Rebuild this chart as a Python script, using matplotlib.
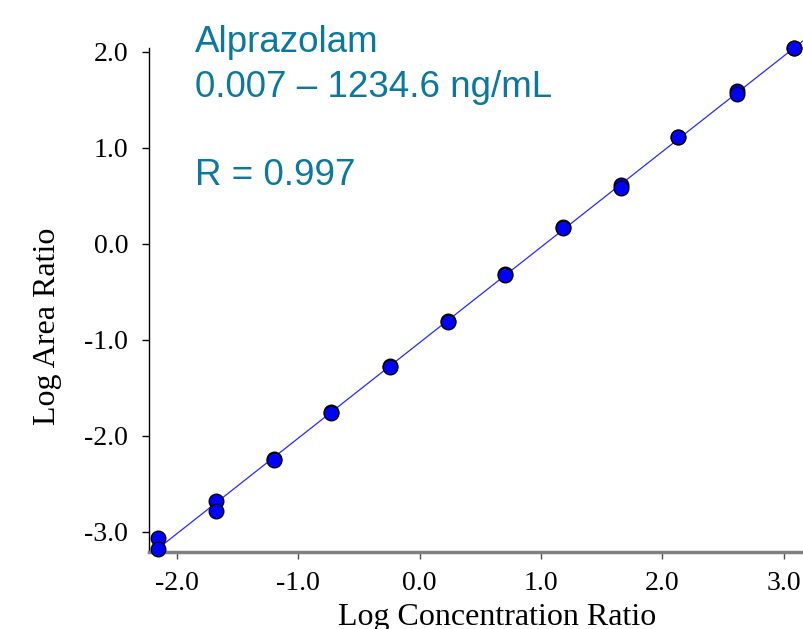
import numpy as np
import matplotlib
matplotlib.use('Agg')
import matplotlib.pyplot as plt

plt.rcParams['axes.unicode_minus'] = False

# log concentration ratio / log area ratio (two replicates per level)
log_conc = [-2.157, -2.157, -1.676, -1.676, -1.204, -1.204, -0.731, -0.731,
            -0.243, -0.243, 0.232, 0.232, 0.704, 0.704, 1.180, 1.180,
            1.657, 1.657, 2.132, 2.132, 2.613, 2.613, 3.087, 3.087]
log_area = [-3.069, -3.180, -2.677, -2.784, -2.243, -2.250, -1.756, -1.762,
            -1.274, -1.280, -0.805, -0.810, -0.319, -0.325, 0.171, 0.166,
            0.611, 0.580, 1.115, 1.110, 1.591, 1.559, 2.042, 2.036]

x_ticks = [-2.0, -1.0, 0.0, 1.0, 2.0, 3.0]
y_ticks = [-3.0, -2.0, -1.0, 0.0, 1.0, 2.0]

x = np.array(log_conc)
y = np.array(log_area)
slope, icpt = np.polyfit(x, y, 1)

fig = plt.figure(figsize=(8.04, 6.29), dpi=100)
ax = fig.add_axes([149/804, 77/629, 655/804, 504/629])
ax.set_xlim(-2.23, 3.166)
ax.set_ylim(-3.21, 2.04)

xl = np.array([x.min(), 3.3])
ax.plot(xl, icpt + slope*xl, color='#2828ff', lw=0.9, zorder=2, clip_on=False)
ax.plot(x, y, 'o', ms=10.5, mfc='#0000ff', mec='black', mew=1.0,
        zorder=3, clip_on=False)

for s in ['top', 'right']:
    ax.spines[s].set_visible(False)
ax.spines['left'].set_linewidth(1.0)
ax.spines['bottom'].set_color('#808080')
ax.spines['bottom'].set_linewidth(2.5)

serif = 'Liberation Serif'
ax.set_xticks(x_ticks)
ax.set_yticks(y_ticks)
ax.set_xticklabels(['%.1f' % v for v in x_ticks], family=serif, fontsize=20)
ax.set_yticklabels(['%.1f' % v for v in y_ticks], family=serif, fontsize=20)
ax.tick_params(axis='x', length=5, width=1, color='#505050', pad=9)
ax.tick_params(axis='y', length=5, width=1, color='black', pad=10)

ax.set_xlabel('Log Concentration Ratio', family=serif, fontsize=23)
ax.set_ylabel('Log Area Ratio', family=serif, fontsize=23)
ax.xaxis.set_label_coords(0.532, -0.101)
ax.yaxis.set_label_coords(-0.133, 0.447)

teal = '#0b78a0'
sans = 'Liberation Sans'
fig.text(195/804, 1 - 52/629, 'Alprazolam', family=sans, fontsize=26.5,
         color=teal, va='baseline')
fig.text(195/804, 1 - 97/629, '0.007 \u2013 1234.6 ng/mL', family=sans,
         fontsize=26.5, color=teal, va='baseline')
fig.text(195/804, 1 - 185/629, 'R = 0.997', family=sans, fontsize=26.5,
         color=teal, va='baseline')

fig.savefig('out.png', dpi=100)
